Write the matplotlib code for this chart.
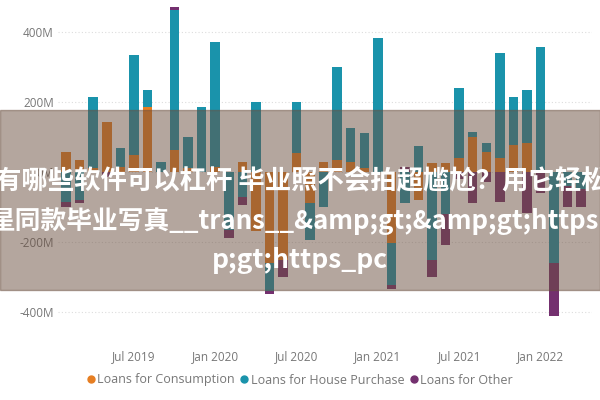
import matplotlib.pyplot as plt
import matplotlib.patches as patches
from matplotlib.lines import Line2D
import numpy as np

# monthly net lending, Feb 2019 .. Apr 2022 (millions)
months = ['Feb 2019', 'Mar 2019', 'Apr 2019', 'May 2019', 'Jun 2019', 'Jul 2019',
          'Aug 2019', 'Sep 2019', 'Oct 2019', 'Nov 2019', 'Dec 2019', 'Jan 2020',
          'Feb 2020', 'Mar 2020', 'Apr 2020', 'May 2020', 'Jun 2020', 'Jul 2020',
          'Aug 2020', 'Sep 2020', 'Oct 2020', 'Nov 2020', 'Dec 2020', 'Jan 2021',
          'Feb 2021', 'Mar 2021', 'Apr 2021', 'May 2021', 'Jun 2021', 'Jul 2021',
          'Aug 2021', 'Sep 2021', 'Oct 2021', 'Nov 2021', 'Dec 2021', 'Jan 2022',
          'Feb 2022', 'Mar 2022', 'Apr 2022']

consumption = [57, 34, 10, 143, 14, 49, 186, 0, 63, 10, 0, 15, 0, 29, -170, -260,
               -250, 55, -90, 29, 34, 29, 10, 0, -204, 0, -80, 26, 26, 40, 100, 57,
               40, 77, 83, 0, 0, 0, 0]
house = [-85, -80, 204, 0, 55, 285, 48, 29, 400, 90, 186, 356, -166, -71, 200, -80,
         0, 145, -105, -100, 266, 97, 101, 383, -120, -90, 74, -250, -120, 200, 14,
         26, 300, 137, 151, 357, -260, -40, -50]
other = [-15, -10, 0, -15, 0, 0, 0, 0, 8, 0, 0, 0, -23, -23, 0, -10, -50, 0, 0, 0,
         0, 0, 0, 0, -10, 14, 0, -50, -90, -20, -89, -30, -86, 0, -117, -60, -150,
         -60, -50]

series = [('Loans for Consumption', consumption, '#E67E22'),
          ('Loans for House Purchase', house, '#1A93AB'),
          ('Loans for Other', other, '#74306F')]

tick_months = ['Jul 2019', 'Jan 2020', 'Jul 2020', 'Jan 2021', 'Jul 2021', 'Jan 2022']
yticks = [-400, -200, 0, 200, 400]

title = ['有哪些软件可以杠杆 毕业照不会拍超尴尬？用它轻松',
         '星同款毕业写真__trans__&amp;gt;&amp;gt;https',
         'p;gt;https_pc']

plt.rcParams['font.family'] = ['Open Sans', 'DejaVu Sans']

fig = plt.figure(figsize=(6, 4), dpi=100)
ax = fig.add_axes([58/600, 1 - 326/400, 534/600, 322/400])

x = np.arange(len(months))
pos_base = np.zeros(len(months))
neg_base = np.zeros(len(months))
handles = []
for name, vals, col in series:
    v = np.array(vals, dtype=float)
    p = np.where(v > 0, v, 0)
    n = np.where(v < 0, v, 0)
    ax.bar(x, p, 0.7, bottom=pos_base, color=col, zorder=3)
    ax.bar(x, n, 0.7, bottom=neg_base, color=col, zorder=3)
    pos_base += p
    neg_base += n
    handles.append(Line2D([], [], linestyle='none', marker='o', markersize=5,
                          color=col, label=name))

ax.set_xlim(-0.6, 38.8)
ax.set_ylim(-440, 480)
ax.set_yticks(yticks)
ax.set_yticklabels([f'{t}M' for t in yticks])
ax.set_xticks([months.index(m) for m in tick_months])
ax.set_xticklabels(tick_months)
ax.tick_params(axis='both', length=0, labelsize=8.5, colors='#777777')
ax.tick_params(axis='x', pad=17)
ax.tick_params(axis='y', pad=3)
ax.grid(axis='y', color='#dddddd', linestyle=(0, (1, 2)), linewidth=0.8, zorder=0)
for s in ax.spines.values():
    s.set_visible(False)

fig.legend(handles=handles, loc='center', bbox_to_anchor=(0.5, 0.05), ncol=3,
           frameon=False, fontsize=9, handlelength=0.6, handletextpad=0.2,
           columnspacing=0.5, labelcolor='#777777')

# translucent banner over the chart
fig.patches.append(patches.Rectangle((0, 1 - 290/400), 1, 180/400,
                                     transform=fig.transFigure,
                                     color='#6b4f3f', alpha=0.5, zorder=10))
fig.text(-0.008, 1 - 181/400, title[0], ha='left', va='center', color='white',
         fontsize=19, fontweight='bold', family=['Noto Sans CJK SC'], zorder=11)
fig.text(-0.018, 1 - 221/400, title[1], ha='left', va='center', color='white',
         fontsize=18.5, fontweight='bold', family=['Noto Sans CJK SC'], zorder=11)
fig.text(0.5, 1 - 261/400, title[2], ha='center', va='center', color='white',
         fontsize=19, fontweight='bold', family=['Noto Sans CJK SC'], zorder=11)

fig.savefig('out.png', dpi=100)
